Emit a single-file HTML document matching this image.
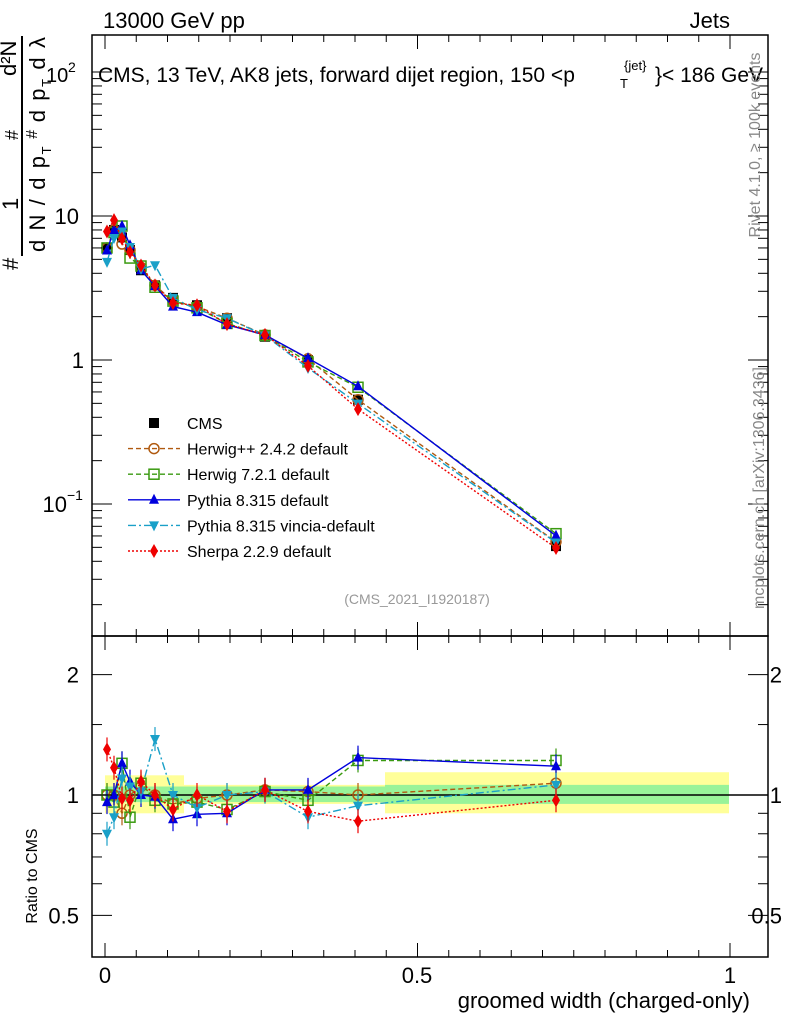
<!DOCTYPE html>
<html><head><meta charset="utf-8"><style>
body{margin:0;background:#fff;width:786px;height:1024px;overflow:hidden}
svg text{font-family:"Liberation Sans",sans-serif}
</style></head><body>
<svg id="s" width="786" height="1024" xmlns="http://www.w3.org/2000/svg"></svg>
<script>
const S=document.getElementById('s');let h='';
const X=v=>105+625*v;
const Ym=v=>360-144*Math.log10(v);
const Yr=r=>795-400*Math.log10(r);
const L=92,R=768,T=35,M=636,B=957;
h+=`<rect x="105" y="${Yr(1.12)}" width="79" height="${Yr(0.9)-Yr(1.12)}" fill="#ffff99"/>`;
h+=`<rect x="184" y="${Yr(1.06)}" width="201" height="${Yr(0.95)-Yr(1.06)}" fill="#ffff99"/>`;
h+=`<rect x="385" y="${Yr(1.14)}" width="344" height="${Yr(0.9)-Yr(1.14)}" fill="#ffff99"/>`;
h+=`<rect x="105" y="${Yr(1.05)}" width="280" height="${Yr(0.96)-Yr(1.05)}" fill="#99f399"/>`;
h+=`<rect x="385" y="${Yr(1.06)}" width="344" height="${Yr(0.95)-Yr(1.06)}" fill="#99f399"/>`;
h+=`<line x1="92" x2="768" y1="795" y2="795" stroke="#000" stroke-width="1.5"/>`;
const xs=[107,114,122,130,141,155,173,197,227,265,308,358,556];
const cms=[6,8,7.1,5.8,4.2,3.3,2.7,2.4,1.95,1.45,1.0,0.53,0.051];
const models=[
{c:'#b05a10',d:'5,3',m:'o',r:[1,1,0.9,1.0,1.05,1,0.95,0.98,1,1.03,1.02,1.0,1.07]},
{c:'#3a9a10',d:'5,3',m:'s',r:[1,0.96,1.2,0.88,1.07,0.97,0.95,0.96,0.92,1.02,0.97,1.22,1.22]},
{c:'#0000dd',d:'',m:'t',r:[0.96,1,1.2,1.08,1,0.99,0.87,0.895,0.9,1.03,1.03,1.24,1.18]},
{c:'#1aa0c8',d:'8,3,2,3',m:'v',r:[0.8,0.88,1.1,1.05,1.02,1.38,1.0,0.93,1.0,1.02,0.88,0.94,1.06]},
{c:'#ee0000',d:'2,2',m:'d',r:[1.3,1.17,0.98,0.97,1.08,1,0.92,1,0.91,1.03,0.91,0.86,0.97]}];
function mk(m,x,y,c){let s=5;
if(m=='o')return `<circle cx="${x}" cy="${y}" r="${s}" fill="none" stroke="${c}" stroke-width="1.5"/>`;
if(m=='s')return `<rect x="${x-s}" y="${y-s}" width="${2*s}" height="${2*s}" fill="none" stroke="${c}" stroke-width="1.5"/>`;
if(m=='t')return `<polygon points="${x},${y-s-1} ${x-s},${y+s-1} ${x+s},${y+s-1}" fill="${c}"/>`;
if(m=='v')return `<polygon points="${x},${y+s+1} ${x-s},${y-s+1} ${x+s},${y-s+1}" fill="${c}"/>`;
if(m=='d')return `<polygon points="${x},${y-s-2} ${x-s+1},${y} ${x},${y+s+2} ${x+s-1},${y}" fill="${c}"/>`;
return `<rect x="${x-5}" y="${y-5}" width="10" height="10" fill="#000"/>`;}
cms.forEach((v,i)=>{h+=mk('c',xs[i],Ym(v));});
models.forEach(o=>{
 let pm=xs.map((x,i)=>x+','+Ym(cms[i]*o.r[i]).toFixed(1)).join(' ');
 let pr=xs.map((x,i)=>x+','+Yr(o.r[i]).toFixed(1)).join(' ');
 h+=`<polyline points="${pm}" fill="none" stroke="${o.c}" stroke-width="1.4" stroke-dasharray="${o.d}"/>`;
 h+=`<polyline points="${pr}" fill="none" stroke="${o.c}" stroke-width="1.4" stroke-dasharray="${o.d}"/>`;
 xs.forEach((x,i)=>{h+=mk(o.m,x,Ym(cms[i]*o.r[i]),o.c);
  let y=Yr(o.r[i]);h+=`<line x1="${x}" x2="${x}" y1="${y-12}" y2="${y+12}" stroke="${o.c}" stroke-width="1.2"/>`+mk(o.m,x,y,o.c);});
});
h+=`<rect x="${L}" y="${T}" width="${R-L}" height="${M-T}" fill="none" stroke="#000" stroke-width="1.5"/>`;
h+=`<rect x="${L}" y="${M}" width="${R-L}" height="${B-M}" fill="none" stroke="#000" stroke-width="1.5"/>`;
for(let k=0;k<=20;k++){let v=k*0.05,x=X(v),len=k%10==0?14:7;
 [[T,1],[M,-1],[M,1],[B,-1]].forEach(([y,d])=>{h+=`<line x1="${x}" x2="${x}" y1="${y}" y2="${y+d*len}" stroke="#000"/>`;});}
h+=`<text x="105" y="983" font-size="22" text-anchor="middle">0</text><text x="417" y="983" font-size="22" text-anchor="middle">0.5</text><text x="730" y="983" font-size="22" text-anchor="middle">1</text>`;
for(let e=-2;e<=2;e++)for(let k=1;k<10;k++){let v=k*Math.pow(10,e),y=Ym(v);if(y<T||y>M)continue;let len=k==1?20:10;
 h+=`<line x1="${L}" x2="${L+len}" y1="${y}" y2="${y}" stroke="#000"/><line x1="${R}" x2="${R-len}" y1="${y}" y2="${y}" stroke="#000"/>`;}
h+=`<text x="79" y="224" font-size="22" text-anchor="end">10</text><text x="84" y="368" font-size="22" text-anchor="end">1</text>`;
h+=`<text x="67" y="512" font-size="22" text-anchor="end">10</text><text x="67" y="500" font-size="14">−1</text>`;
h+=`<text x="46" y="82" font-size="20">10</text><text x="68" y="72" font-size="14">2</text>`;
[0.5,0.6,0.7,0.8,0.9,1,1.5,2].forEach(r=>{let y=Yr(r),len=(r==0.5||r==1||r==2)?20:10;
 h+=`<line x1="${L}" x2="${L+len}" y1="${y}" y2="${y}" stroke="#000"/><line x1="${R}" x2="${R-len}" y1="${y}" y2="${y}" stroke="#000"/>`;});
[[2,'2'],[1,'1'],[0.5,'0.5']].forEach(([r,t])=>{let y=Yr(r)+8;
 h+=`<text x="79" y="${y}" font-size="22" text-anchor="end">${t}</text><text x="782" y="${y}" font-size="22" text-anchor="end">${t}</text>`;});
h+=`<text x="103" y="28" font-size="22">13000 GeV pp</text><text x="730" y="28" font-size="22" text-anchor="end">Jets</text>`;
h+=`<text x="98" y="82" font-size="21">CMS, 13 TeV, AK8 jets, forward dijet region, 150 &lt;p</text><text x="620" y="88" font-size="13">T</text><text x="624" y="70" font-size="13">{jet}</text><text x="655" y="82" font-size="21">}&lt; 186 GeV</text>`;
h+=`<text x="750" y="1008" font-size="22" text-anchor="end">groomed width (charged-only)</text>`;
h+=`<text transform="translate(37,876) rotate(-90)" font-size="16" text-anchor="middle">Ratio to CMS</text>`;
h+=`<text transform="translate(760,145) rotate(-90)" font-size="16" fill="#888" text-anchor="middle">Rivet 4.1.0, ≥ 100k events</text>`;
h+=`<text transform="translate(764,488) rotate(-90)" font-size="16" fill="#888" text-anchor="middle">mcplots.cern.ch [arXiv:1306.3436]</text>`;
h+=`<text x="417" y="604" font-size="14" fill="#999" text-anchor="middle">(CMS_2021_I1920187)</text>`;
// y label
h+=`<line x1="22" x2="22" y1="36" y2="256" stroke="#000" stroke-width="2"/>`;
h+=`<text transform="translate(45,252) rotate(-90)" font-size="22" textLength="215" lengthAdjust="spacing">d N / d p<tspan font-size="13" dy="6">T</tspan><tspan dy="-14" font-size="16"> # </tspan><tspan dy="8">d p</tspan><tspan font-size="13" dy="6">T</tspan><tspan dy="-6"> d λ</tspan></text>`;
h+=`<text transform="translate(18,270) rotate(-90)" font-size="22">#</text>`;
h+=`<text transform="translate(18,210) rotate(-90)" font-size="22">1</text>`;
h+=`<text transform="translate(18,140) rotate(-90)" font-size="18">#</text>`;
h+=`<text transform="translate(16,76) rotate(-90)" font-size="22">d²N</text>`;
const lg=[['c','#000','','CMS'],['o','#b05a10','5,3','Herwig++ 2.4.2 default'],['s','#3a9a10','5,3','Herwig 7.2.1 default'],['t','#0000dd','','Pythia 8.315 default'],['v','#1aa0c8','8,3,2,3','Pythia 8.315 vincia-default'],['d','#ee0000','2,2','Sherpa 2.2.9 default']];
lg.forEach(([m,c,d,t],i)=>{let y=423+i*25.6;
 if(i>0)h+=`<line x1="128" x2="180" y1="${y}" y2="${y}" stroke="${c}" stroke-width="1.4" stroke-dasharray="${d}"/>`;
 h+=mk(m,154,y,c)+`<text x="187" y="${y+6}" font-size="16">${t}</text>`;});
S.innerHTML=h;
</script>
</body></html>
